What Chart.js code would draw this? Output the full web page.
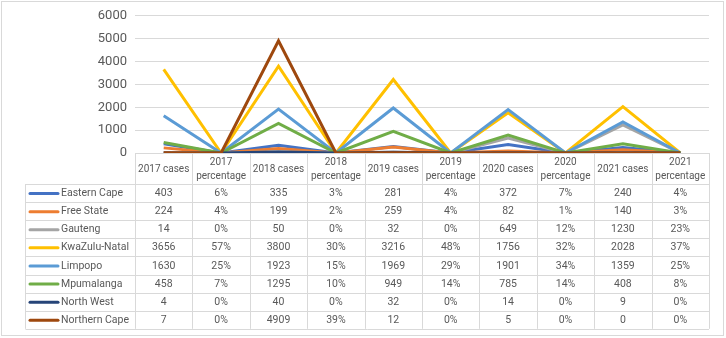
<!DOCTYPE html>
<html>
<head>
<meta charset="utf-8">
<script src="https://cdn.jsdelivr.net/npm/chart.js@4"></script>
<style>
  body { margin: 0; background: #fff; }
  #wrap { position: relative; width: 726px; height: 338px; }
  #frame { position: absolute; left: 1px; top: 1px; width: 721px; height: 333px; border: 1px solid #d9d9d9; box-sizing: content-box; pointer-events: none; }
</style>
</head>
<body>
<div id="wrap">
  <canvas id="chart" width="726" height="338"></canvas>
  <div id="frame"></div>
</div>
<script>
const years = ["2017", "2018", "2019", "2020", "2021"];
const provinces = ["Eastern Cape", "Free State", "Gauteng", "KwaZulu-Natal", "Limpopo", "Mpumalanga", "North West", "Northern Cape"];
const provinceColors = ["#4472C4", "#ED7D31", "#A5A5A5", "#FFC000", "#5B9BD5", "#70AD47", "#264478", "#9E480E"];

// cases per year, in the order of years
const easternCapeCases = [403, 335, 281, 372, 240];
const freeStateCases = [224, 199, 259, 82, 140];
const gautengCases = [14, 50, 32, 649, 1230];
const kznCases = [3656, 3800, 3216, 1756, 2028];
const limpopoCases = [1630, 1923, 1969, 1901, 1359];
const mpumalangaCases = [458, 1295, 949, 785, 408];
const northWestCases = [4, 40, 32, 14, 9];
const northernCapeCases = [7, 4909, 12, 5, 0];

// percentage of cases per year
const easternCapePct = [6, 3, 4, 7, 4];
const freeStatePct = [4, 2, 4, 1, 3];
const gautengPct = [0, 0, 0, 12, 23];
const kznPct = [57, 30, 48, 32, 37];
const limpopoPct = [25, 15, 29, 34, 25];
const mpumalangaPct = [7, 10, 14, 14, 8];
const northWestPct = [0, 0, 0, 0, 0];
const northernCapePct = [0, 39, 0, 0, 0];

const yTicks = [0, 1000, 2000, 3000, 4000, 5000, 6000];

const casesByProvince = [easternCapeCases, freeStateCases, gautengCases, kznCases, limpopoCases, mpumalangaCases, northWestCases, northernCapeCases];
const pctByProvince = [easternCapePct, freeStatePct, gautengPct, kznPct, limpopoPct, mpumalangaPct, northWestPct, northernCapePct];

// columns alternate: cases, percentage
const labels = [];
years.forEach(y => { labels.push(y + " cases"); labels.push(y + " percentage"); });

const seriesValues = casesByProvince.map((cases, p) => {
    const out = [];
    cases.forEach((c, i) => { out.push(c); out.push(pctByProvince[p][i] / 100); });
    return out;
});
const cellTexts = casesByProvince.map((cases, p) => {
    const out = [];
    cases.forEach((c, i) => { out.push(String(c)); out.push(pctByProvince[p][i] + "%"); });
    return out;
});

const font = "Roboto";
const textColor = "#595959";
const lineColor = "#d9d9d9";

// draws the Excel-style data table under the plot, aligned to the x scale
const dataTable = {
    id: "dataTable",
    afterDraw(chart) {
        const ctx = chart.ctx;
        const x = chart.scales.x;
        const area = chart.chartArea;
        const colW = x.width / labels.length;
        const top = area.bottom;
        const headH = 31;
        const rowH = 18.1;
        const legendLeft = 25.5;
        const bottom = top + headH + rowH * provinces.length;
        const edges = labels.map((l, i) => x.getPixelForValue(i) - colW / 2);
        edges.push(x.right);

        ctx.save();
        ctx.strokeStyle = lineColor;
        ctx.lineWidth = 1;
        ctx.beginPath();
        // vertical lines
        edges.forEach(e => { const ex = Math.round(e) + 0.5; ctx.moveTo(ex, top); ctx.lineTo(ex, bottom); });
        ctx.moveTo(legendLeft, top + headH);
        ctx.lineTo(legendLeft, bottom);
        // horizontal lines
        ctx.moveTo(edges[0], Math.round(top) + 0.5);
        ctx.lineTo(x.right, Math.round(top) + 0.5);
        for (let r = 0; r <= provinces.length; r++) {
            const ry = Math.round(top + headH + r * rowH) + 0.5;
            ctx.moveTo(legendLeft, ry);
            ctx.lineTo(x.right, ry);
        }
        ctx.stroke();

        ctx.fillStyle = textColor;
        ctx.font = "10px " + font;
        ctx.textAlign = "center";
        ctx.textBaseline = "middle";
        labels.forEach((l, i) => {
            const cx = x.getPixelForValue(i);
            if (i % 2 === 0) {
                ctx.fillText(l, cx, top + headH / 2 + 1);
            } else {
                ctx.fillText(years[(i - 1) / 2], cx, top + 9);
                ctx.fillText("percentage", cx, top + 23);
            }
        });

        ctx.font = "10.5px " + font;
        provinces.forEach((name, p) => {
            const cy = top + headH + rowH * p + rowH / 2 + 0.5;
            ctx.fillStyle = textColor;
            ctx.textAlign = "center";
            cellTexts[p].forEach((t, i) => ctx.fillText(t, x.getPixelForValue(i), cy));
            ctx.textAlign = "left";
            ctx.fillText(name, 61, cy);
            ctx.strokeStyle = provinceColors[p];
            ctx.lineWidth = 3;
            ctx.lineCap = "round";
            ctx.beginPath();
            ctx.moveTo(30, cy);
            ctx.lineTo(58, cy);
            ctx.stroke();
        });
        ctx.restore();
    }
};

new Chart(document.getElementById("chart"), {
    type: "line",
    data: {
        labels: labels,
        datasets: provinces.map((name, p) => ({
            label: name,
            data: seriesValues[p],
            borderColor: provinceColors[p],
            backgroundColor: provinceColors[p],
            borderWidth: 3,
            pointRadius: 0,
            tension: 0,
            order: provinces.length - p
        }))
    },
    options: {
        responsive: false,
        animation: false,
        layout: { padding: { left: 0, right: 17, top: 15, bottom: 185 } },
        plugins: { legend: { display: false }, tooltip: { enabled: false } },
        scales: {
            x: {
                display: false,
                offset: true
            },
            y: {
                min: 0,
                max: 6000,
                afterFit: (scale) => { scale.width = 135; },
                afterBuildTicks: (scale) => { scale.ticks = yTicks.map(v => ({ value: v })); },
                border: { display: false },
                grid: { color: lineColor, drawTicks: false },
                ticks: {
                    color: textColor,
                    padding: 8,
                    font: { family: font, size: 13 },
                    callback: (v) => String(v)
                }
            }
        }
    },
    plugins: [dataTable]
});
</script>
</body>
</html>
